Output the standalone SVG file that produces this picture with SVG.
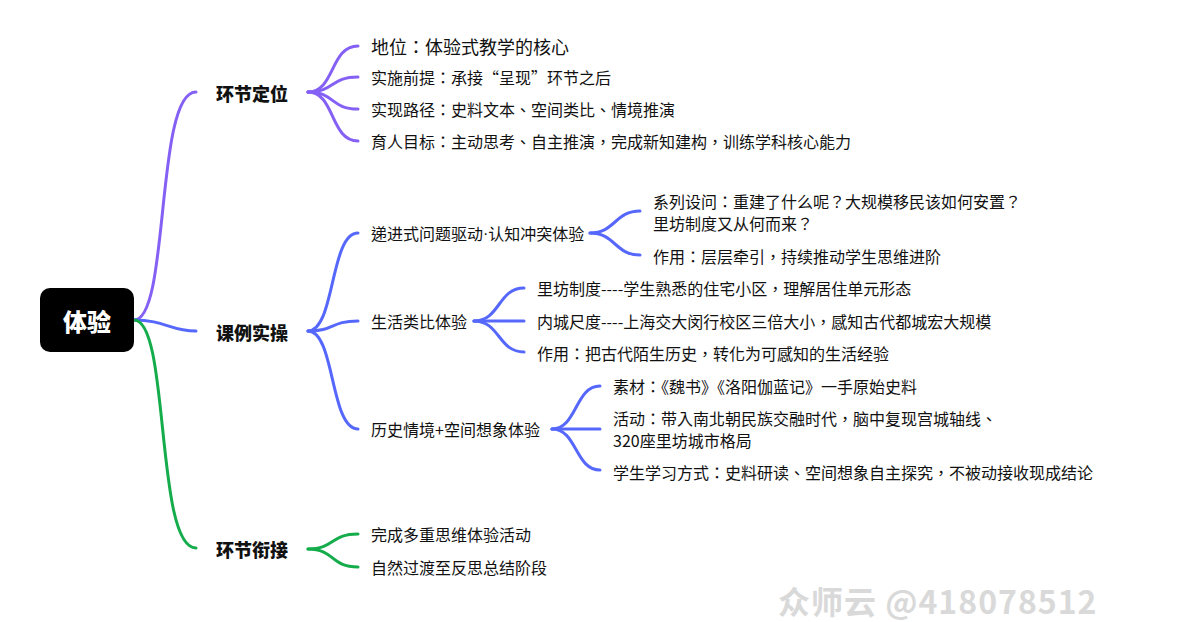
<svg xmlns="http://www.w3.org/2000/svg" width="1177" height="622" viewBox="0 0 1177 622">
<style>
text{font-family:"Noto Sans CJK TC","Noto Sans CJK SC","Noto Sans",sans-serif;fill:#111;dominant-baseline:central}
.t{font-size:16px}
.t1{font-size:18px}
.b{font-size:18px;font-weight:900}
.root{font-size:24px;font-weight:900;fill:#fff;text-anchor:middle}
.wm{font-size:32px;fill:#d9d9d9;font-weight:bold}
.lat{font-family:"Liberation Sans",sans-serif}
path{fill:none;stroke-width:3;stroke-linecap:round}
.p{stroke:#8560f4}
.u{stroke:#5668fb}
.g{stroke:#15ac4c}
</style>
<rect width="1177" height="622" fill="#fff"/>
<g id="connectors">
<path class="p" d="M134,320 C170,320 155,92 196,92"/>
<path class="u" d="M134,320 C165,320 170,331 196,331"/>
<path class="g" d="M134,320 C170,320 155,548 196,548"/>
<path class="p" d="M308,92 C335,92 330,46 358,46"/>
<path class="p" d="M308,92 C335,92 330,77 358,77"/>
<path class="p" d="M308,92 C335,92 330,109 358,109"/>
<path class="p" d="M308,92 C335,92 330,141 358,141"/>
<path class="u" d="M308,331 C335,331 330,233 358,233"/>
<path class="u" d="M308,331 C335,331 330,321 358,321"/>
<path class="u" d="M308,331 C335,331 330,429 358,429"/>
<path class="u" d="M590,233 C615,233 615,211 640,211"/>
<path class="u" d="M590,233 C615,233 615,255 640,255"/>
<path class="u" d="M474,321 C500,321 498,288 524,288"/>
<path class="u" d="M474,321 L524,321"/>
<path class="u" d="M474,321 C500,321 498,352 524,352"/>
<path class="u" d="M552,429 C577,429 575,386 600,386"/>
<path class="u" d="M552,429 L600,429"/>
<path class="u" d="M552,429 C577,429 575,470 600,470"/>
<path class="g" d="M308,549 C335,549 330,534 358,534"/>
<path class="g" d="M308,549 C335,549 330,567 358,567"/>
</g>
<g id="root"><rect x="40" y="288" width="94" height="64" rx="10" fill="#000"/><text class="root" x="87" y="320">体验</text></g>
<g id="n-dingwei"><text class="b" x="216" y="93">环节定位</text></g>
<g id="n-shicao"><text class="b" x="216" y="332">课例实操</text></g>
<g id="n-xianjie"><text class="b" x="216" y="549">环节衔接</text></g>
<g id="n-diwei"><text class="t1" x="371" y="46">地位：体验式教学的核心</text></g>
<g id="n-qianti"><text class="t" x="371" y="77">实施前提：承接“呈现”环节之后</text></g>
<g id="n-lujing"><text class="t" x="371" y="109">实现路径：史料文本、空间类比、情境推演</text></g>
<g id="n-mubiao"><text class="t" x="371" y="141">育人目标：主动思考、自主推演，完成新知建构，训练学科核心能力</text></g>
<g id="n-dijin"><text class="t" x="371" y="233">递进式问题驱动<tspan class="lat">·</tspan>认知冲突体验</text></g>
<g id="n-shewen"><text class="t" x="653" y="201">系列设问：重建了什么呢？大规模移民该如何安置？</text><text class="t" x="653" y="223">里坊制度又从何而来？</text></g>
<g id="n-zuoyong1"><text class="t" x="653" y="256">作用：层层牵引，持续推动学生思维进阶</text></g>
<g id="n-shenghuo"><text class="t" x="371" y="321">生活类比体验</text></g>
<g id="n-lifang"><text class="t" x="537" y="288">里坊制度----学生熟悉的住宅小区，理解居住单元形态</text></g>
<g id="n-neicheng"><text class="t" x="537" y="321">内城尺度----上海交大闵行校区三倍大小，感知古代都城宏大规模</text></g>
<g id="n-zuoyong2"><text class="t" x="537" y="353">作用：把古代陌生历史，转化为可感知的生活经验</text></g>
<g id="n-lishi"><text class="t" x="371" y="429">历史情境+空间想象体验</text></g>
<g id="n-sucai"><text class="t" x="613" y="386">素材：《魏书》《洛阳伽蓝记》一手原始史料</text></g>
<g id="n-huodong"><text class="t" x="613" y="418">活动：带入南北朝民族交融时代，脑中复现宫城轴线、</text><text class="t" x="613" y="440">320座里坊城市格局</text></g>
<g id="n-fangshi"><text class="t" x="613" y="472">学生学习方式：史料研读、空间想象自主探究，不被动接收现成结论</text></g>
<g id="n-wancheng"><text class="t" x="371" y="534">完成多重思维体验活动</text></g>
<g id="n-guodu"><text class="t" x="371" y="567">自然过渡至反思总结阶段</text></g>
<text class="wm" x="778" y="600" letter-spacing="1">众师云 @418078512</text>
</svg>
